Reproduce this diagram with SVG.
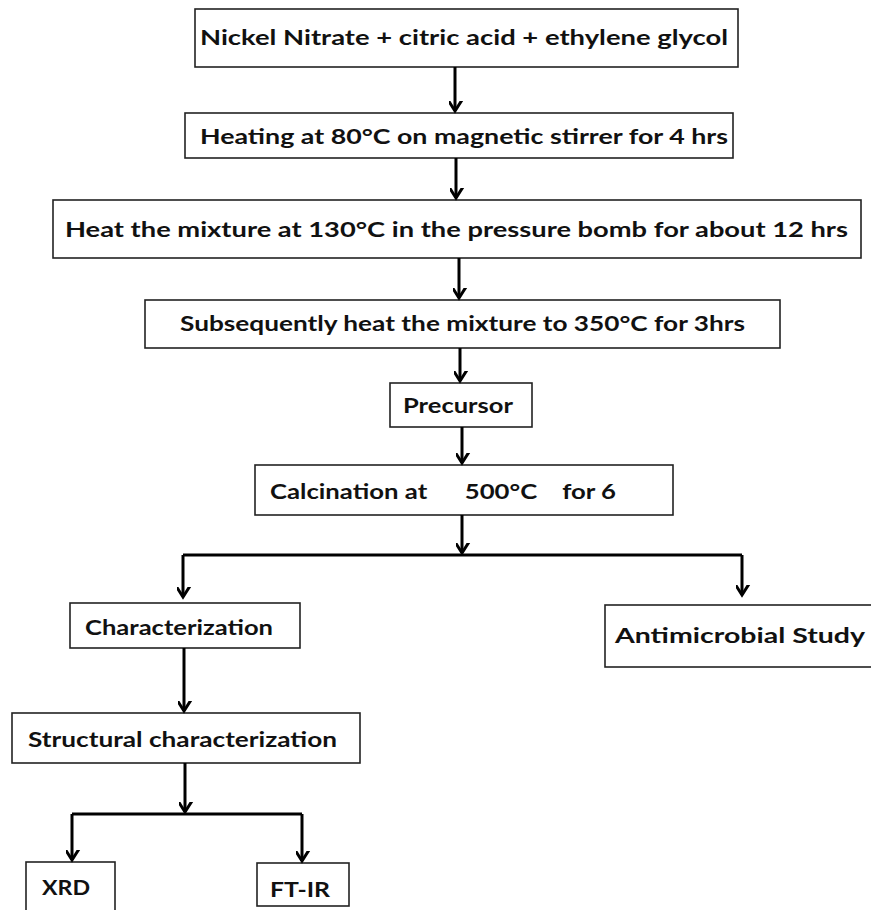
<svg xmlns="http://www.w3.org/2000/svg" width="871" height="910" viewBox="0 0 871 910">
<style>
.box{fill:#fff;stroke:#222;stroke-width:1.6}
.t{font-family:Lato,"Open Sans","Liberation Sans",sans-serif;font-weight:bold;font-size:20px;fill:#111}
.c{fill:none;stroke:#000;stroke-width:3}
</style>
<defs>
<marker id="ah" markerUnits="userSpaceOnUse" markerWidth="20" markerHeight="20" viewBox="-10 -14 20 20" refX="0" refY="0" orient="auto">
<path d="M-11,-7 L0,0 L-11,7" fill="none" stroke="#000" stroke-width="3"/>
</marker>
</defs>
<rect width="871" height="910" fill="#fff"/>
<g id="n1"><rect class="box" x="195" y="9" width="543" height="58"/><text class="t" x="200" y="45" textLength="528" lengthAdjust="spacingAndGlyphs">Nickel Nitrate + citric acid + ethylene glycol</text></g>
<g id="n2"><rect class="box" x="185" y="113" width="548" height="45"/><text class="t" x="200" y="144" textLength="528" lengthAdjust="spacingAndGlyphs">Heating at 80°C on magnetic stirrer for  4 hrs</text></g>
<g id="n3"><rect class="box" x="53" y="200" width="808" height="58"/><text class="t" x="65" y="237" textLength="783" lengthAdjust="spacingAndGlyphs">Heat the mixture at 130°C in the pressure bomb for about 12 hrs</text></g>
<g id="n4"><rect class="box" x="145" y="300" width="635" height="48"/><text class="t" x="180" y="331" textLength="565" lengthAdjust="spacingAndGlyphs">Subsequently heat the mixture to 350°C for 3hrs</text></g>
<g id="n5"><rect class="box" x="390" y="383" width="142" height="44"/><text class="t" x="403" y="413" textLength="110" lengthAdjust="spacingAndGlyphs">Precursor</text></g>
<g id="n6"><rect class="box" x="255" y="465" width="418" height="50"/><text class="t" x="270" y="499" textLength="346" lengthAdjust="spacingAndGlyphs" xml:space="preserve">Calcination at      500°C    for 6</text></g>
<g id="n7"><rect class="box" x="70" y="603" width="230" height="45"/><text class="t" x="85" y="635" textLength="188" lengthAdjust="spacingAndGlyphs">Characterization</text></g>
<g id="n8"><rect class="box" x="605" y="605" width="270" height="62"/><text class="t" x="615" y="643" textLength="250" lengthAdjust="spacingAndGlyphs">Antimicrobial  Study</text></g>
<g id="n9"><rect class="box" x="12" y="713" width="348" height="50"/><text class="t" x="28" y="747" textLength="309" lengthAdjust="spacingAndGlyphs">Structural characterization</text></g>
<g id="n10"><rect class="box" x="26" y="862" width="89" height="60"/><text class="t" x="42" y="895" textLength="48" lengthAdjust="spacingAndGlyphs">XRD</text></g>
<g id="n11"><rect class="box" x="257" y="863" width="92" height="43"/><text class="t" x="270" y="897" textLength="60" lengthAdjust="spacingAndGlyphs">FT-IR</text></g>
<g id="connectors">
<path class="c" d="M455,67 V111" marker-end="url(#ah)"/>
<path class="c" d="M456,158 V198" marker-end="url(#ah)"/>
<path class="c" d="M459,258 V298" marker-end="url(#ah)"/>
<path class="c" d="M460,348 V381" marker-end="url(#ah)"/>
<path class="c" d="M462,427 V463" marker-end="url(#ah)"/>
<path class="c" d="M462,515 V553" marker-end="url(#ah)"/>
<path class="c" d="M183,555 H742"/>
<path class="c" d="M183,555 V597" marker-end="url(#ah)"/>
<path class="c" d="M742,555 V595" marker-end="url(#ah)"/>
<path class="c" d="M184,648 V711" marker-end="url(#ah)"/>
<path class="c" d="M185,763 V812" marker-end="url(#ah)"/>
<path class="c" d="M72,814 H302"/>
<path class="c" d="M72,814 V860" marker-end="url(#ah)"/>
<path class="c" d="M302,814 V861" marker-end="url(#ah)"/>
</g>
</svg>
